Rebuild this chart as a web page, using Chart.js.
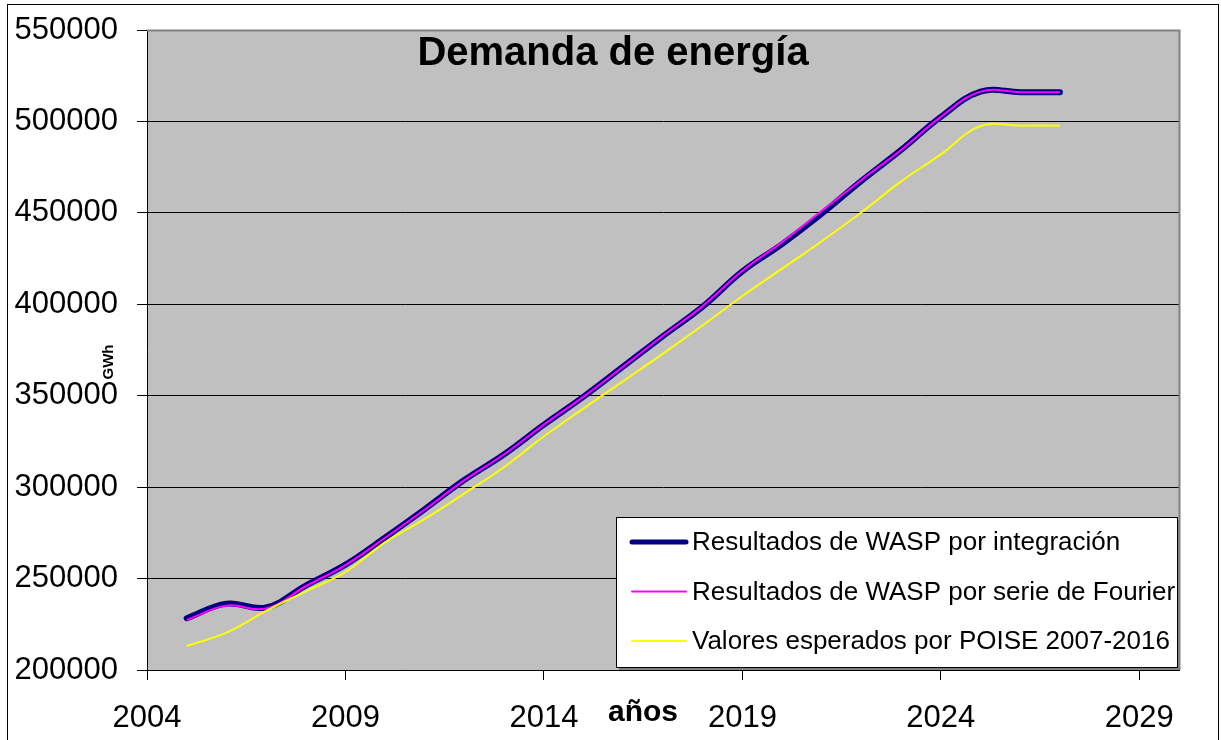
<!DOCTYPE html>
<html>
<head>
<meta charset="utf-8">
<title>Demanda de energía</title>
<script src="https://cdn.jsdelivr.net/npm/chart.js@4/dist/chart.umd.min.js"></script>
<style>
  body { margin: 0; background: #fff; }
  #wrap { width: 1221px; height: 740px; }
</style>
</head>
<body>
<div id="wrap"><canvas id="chart" width="1221" height="740"></canvas></div>
<script>
// Data (GWh per year)
const years = [2005, 2006, 2007, 2008, 2009, 2010, 2011, 2012, 2013, 2014, 2015, 2016,
  2017, 2018, 2019, 2020, 2021, 2022, 2023, 2024, 2025, 2026, 2027];
const waspIntegracion = [228300, 236300, 234200, 246200, 257600, 272500, 288000, 304000, 318000, 334200, 349500, 366000,
  382600, 398700, 418000, 432900, 449500, 467500, 484400, 502500, 516300, 516000, 516000];
const waspFourier = [227400, 235200, 233600, 245800, 257400, 272300, 287800, 303800, 318000, 334200, 349500, 366000,
  382800, 399000, 418300, 434000, 451000, 468000, 484400, 502500, 516300, 516000, 516000];
const poiseEsperados = [213100, 220400, 232300, 243000, 253600, 269800, 282600, 296600, 311000, 327800, 343100, 358000,
  373000, 388500, 404500, 419500, 434500, 450300, 467200, 482000, 497500, 497700, 497700];

const seriesNames = [
  "Resultados de WASP por integración",
  "Resultados de WASP por serie de Fourier",
  "Valores esperados por POISE 2007-2016"
];
const seriesColors = ["#000080", "#ff00ff", "#ffff00"];
const seriesWidths = [6, 2, 2];

const xTicks = [2004, 2009, 2014, 2019, 2024, 2029];
const yTicks = [200000, 250000, 300000, 350000, 400000, 450000, 500000, 550000];

const chartTitle = "Demanda de energía";
const xTitle = "años";
const yTitle = "GWh";

const FONT = "'Liberation Sans', Arial, sans-serif";

function toPoints(values) {
  return years.map((x, i) => ({ x: x, y: values[i] }));
}

// Background, borders, title, axis titles and legend box
const decorPlugin = {
  id: "decor",
  beforeDraw(chart) {
    const { ctx, chartArea: a } = chart;
    ctx.save();
    ctx.fillStyle = "#ffffff";
    ctx.fillRect(0, 0, chart.width, chart.height);
    ctx.fillStyle = "#c0c0c0";
    ctx.fillRect(a.left, a.top, a.right - a.left, a.bottom - a.top);
    ctx.restore();
  },
  afterDraw(chart) {
    const { ctx, chartArea: a } = chart;
    ctx.save();

    // plot area top / right edge
    ctx.strokeStyle = "#808080";
    ctx.lineWidth = 2;
    ctx.beginPath();
    ctx.moveTo(a.left, a.top + 0.5);
    ctx.lineTo(a.right + 0.5, a.top + 0.5);
    ctx.lineTo(a.right + 0.5, a.bottom);
    ctx.stroke();

    // chart outer border
    ctx.strokeStyle = "#000000";
    ctx.lineWidth = 1;
    ctx.strokeRect(7.5, 4.5, 1211, 760);

    // title
    ctx.fillStyle = "#000";
    ctx.font = "bold 40px " + FONT;
    ctx.textAlign = "center";
    ctx.textBaseline = "middle";
    ctx.fillText(chartTitle, 613, 54);

    // axis titles
    ctx.font = "bold 30px " + FONT;
    ctx.fillText(xTitle, 643, 713);

    ctx.save();
    ctx.translate(109, 362);
    ctx.rotate(-Math.PI / 2);
    ctx.font = "bold 15px " + FONT;
    ctx.fillText(yTitle, 0, 0);
    ctx.restore();

    // legend box
    const lx = 616, ly = 517, lw = 561, lh = 150;
    ctx.fillStyle = "#808080";
    ctx.fillRect(lx + 3, ly + 3, lw, lh);
    ctx.fillStyle = "#ffffff";
    ctx.fillRect(lx, ly, lw, lh);
    ctx.strokeStyle = "#000";
    ctx.lineWidth = 1;
    ctx.strokeRect(lx + 0.5, ly + 0.5, lw, lh);

    ctx.textAlign = "left";
    ctx.font = "26px " + FONT;
    seriesNames.forEach((name, i) => {
      const y = ly + 25 + i * 49.5;
      ctx.strokeStyle = seriesColors[i];
      ctx.lineWidth = Math.min(seriesWidths[i], 5);
      ctx.lineCap = "round";
      ctx.beginPath();
      ctx.moveTo(632, y);
      ctx.lineTo(686, y);
      ctx.stroke();
      ctx.fillStyle = "#000";
      ctx.fillText(name, 692, y + 1);
    });

    ctx.restore();
  }
};

const ctx = document.getElementById("chart").getContext("2d");
new Chart(ctx, {
  type: "line",
  data: {
    datasets: [
      {
        label: seriesNames[0],
        data: toPoints(waspIntegracion),
        borderColor: seriesColors[0],
        borderWidth: seriesWidths[0],
        borderCapStyle: "round",
        borderJoinStyle: "round",
        pointRadius: 0,
        tension: 0.4,
        order: 2
      },
      {
        label: seriesNames[1],
        data: toPoints(waspFourier),
        borderColor: seriesColors[1],
        borderWidth: seriesWidths[1],
        pointRadius: 0,
        tension: 0.4,
        order: 1
      },
      {
        label: seriesNames[2],
        data: toPoints(poiseEsperados),
        borderColor: seriesColors[2],
        borderWidth: seriesWidths[2],
        pointRadius: 0,
        tension: 0.4,
        order: 0
      }
    ]
  },
  options: {
    responsive: false,
    animation: false,
    layout: { padding: { top: 30, right: 42, left: 0, bottom: 0 } },
    plugins: {
      legend: { display: false },
      tooltip: { enabled: false },
      title: { display: false }
    },
    scales: {
      x: {
        type: "linear",
        min: 2004,
        max: 2030,
        afterBuildTicks: scale => { scale.ticks = xTicks.map(v => ({ value: v })); },
        afterFit: scale => {
          scale.height = 70;
          scale.paddingLeft = 0;
          scale.paddingRight = 0;
        },
        ticks: {
          color: "#000",
          font: { family: FONT, size: 31 },
          padding: 20,
          maxRotation: 0,
          callback: v => String(v)
        },
        grid: { drawOnChartArea: false, drawTicks: true, tickLength: 10, color: "#000" },
        border: { color: "#000", width: 1 }
      },
      y: {
        min: 200000,
        max: 550000,
        afterBuildTicks: scale => { scale.ticks = yTicks.map(v => ({ value: v })); },
        afterFit: scale => {
          scale.width = 147;
          scale.paddingTop = 0;
          scale.paddingBottom = 0;
        },
        ticks: {
          color: "#000",
          font: { family: FONT, size: 31 },
          padding: 19,
          callback: v => String(v)
        },
        grid: { color: "#000", lineWidth: 1, tickLength: 10 },
        border: { color: "#000", width: 1 }
      }
    }
  },
  plugins: [decorPlugin]
});
</script>
</body>
</html>
